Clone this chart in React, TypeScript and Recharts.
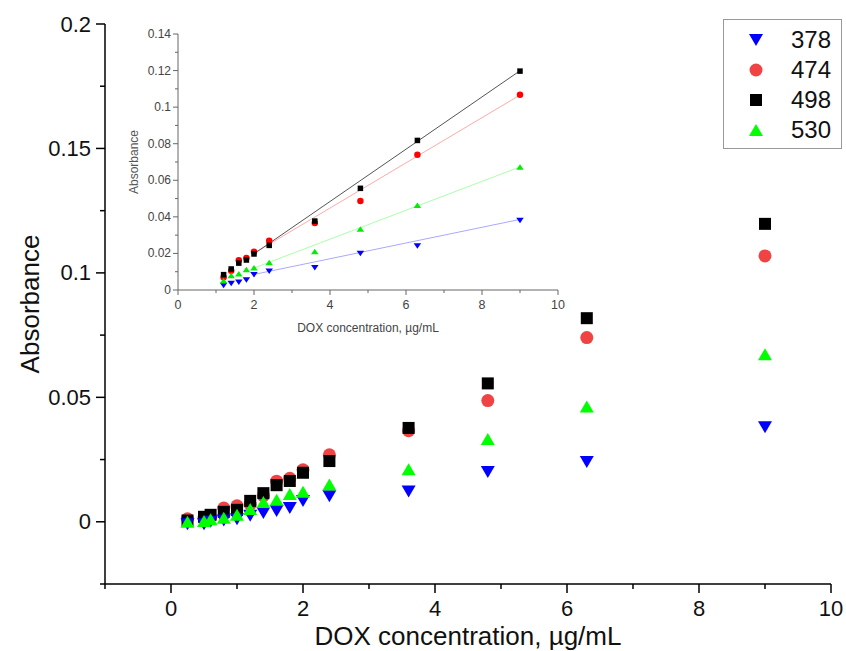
import React from 'react';
import { ScatterChart, Scatter, XAxis, YAxis, ReferenceLine } from 'recharts';

// ---------- data ----------
const concentration = [0.25, 0.5, 0.6, 0.8, 1.0, 1.2, 1.4, 1.6, 1.8, 2.0, 2.4, 3.6, 4.8, 6.3, 9.0];
const abs378 = [-0.001, -0.001, 0.0, 0.0005, 0.001, 0.0024, 0.0035, 0.0043, 0.0055, 0.0083, 0.0103, 0.0122, 0.02, 0.024, 0.038];
const abs474 = [0.0012, 0.0015, 0.002, 0.0055, 0.0064, 0.007, 0.0105, 0.0163, 0.0175, 0.0209, 0.0269, 0.0366, 0.0487, 0.074, 0.1068];
const abs498 = [0.0005, 0.002, 0.0028, 0.004, 0.0048, 0.0084, 0.0115, 0.0147, 0.0164, 0.0197, 0.0244, 0.0377, 0.0556, 0.0818, 0.1197];
const abs530 = [0.0, 0.0003, 0.001, 0.0016, 0.0028, 0.0051, 0.0079, 0.0089, 0.0112, 0.0121, 0.015, 0.0211, 0.0333, 0.0463, 0.0673];

const seriesNames = ['378', '474', '498', '530'];

// linear fit endpoints (inset)
const fitX = [2, 9];
const fit378 = [0.0085, 0.0386];
const fit474 = [0.0201, 0.1066];
const fit498 = [0.0198, 0.1199];
const fit530 = [0.012, 0.0673];

const insetMinConcentration = 1.2;

const mainXTicks = [-1, 0, 1, 2, 3, 4, 5, 6, 7, 8, 9, 10];
const mainXLabels = [0, 2, 4, 6, 8, 10];
const mainYTicks = [-0.025, 0, 0.025, 0.05, 0.075, 0.1, 0.125, 0.15, 0.175, 0.2];
const mainYLabels = [0, 0.05, 0.1, 0.15, 0.2];
const insetXTicks = [0, 1, 2, 3, 4, 5, 6, 7, 8, 9, 10];
const insetXLabels = [0, 2, 4, 6, 8, 10];
const insetYTicks = [0, 0.01, 0.02, 0.03, 0.04, 0.05, 0.06, 0.07, 0.08, 0.09, 0.1, 0.11, 0.12, 0.13, 0.14];
const insetYLabels = [0, 0.02, 0.04, 0.06, 0.08, 0.1, 0.12, 0.14];

const xTitle = 'DOX concentration, µg/mL';
const yTitle = 'Absorbance';

// ---------- styling ----------
const FONT = '"Liberation Sans", Arial, sans-serif';

type Kind = 'down' | 'up' | 'circle' | 'square';

const seriesStyle: Record<string, { kind: Kind; main: string; inset: string; line: string }> = {
  '378': { kind: 'down', main: '#0000ff', inset: '#0000ff', line: '#a8a8ff' },
  '474': { kind: 'circle', main: '#f04444', inset: '#ff0000', line: '#ffaaaa' },
  '498': { kind: 'square', main: '#000000', inset: '#000000', line: '#555555' },
  '530': { kind: 'up', main: '#00ff00', inset: '#00ee00', line: '#aaffaa' },
};

const valuesByName: Record<string, number[]> = { '378': abs378, '474': abs474, '498': abs498, '530': abs530 };
const fitByName: Record<string, number[]> = { '378': fit378, '474': fit474, '498': fit498, '530': fit530 };

// draw order: red, black, blue, green
const drawOrder = ['474', '498', '378', '530'];

function marker(kind: Kind, cx: number, cy: number, s: number, color: string) {
  if (kind === 'square') {
    return <rect x={cx - s / 2} y={cy - s / 2} width={s} height={s} fill={color} />;
  }
  if (kind === 'circle') {
    return <circle cx={cx} cy={cy} r={s / 2 + 0.5} fill={color} />;
  }
  const w = s + 2;
  const h = s;
  if (kind === 'up') {
    return <polygon points={`${cx},${cy - h / 2} ${cx - w / 2},${cy + h / 2} ${cx + w / 2},${cy + h / 2}`} fill={color} />;
  }
  return <polygon points={`${cx},${cy + h / 2} ${cx - w / 2},${cy - h / 2} ${cx + w / 2},${cy - h / 2}`} fill={color} />;
}

const makeShape = (kind: Kind, size: number, color: string) => (props: any) => {
  const { cx, cy } = props;
  if (cx == null || cy == null) return <g />;
  return marker(kind, cx, cy, size, color);
};

const near = (a: number, list: number[]) => list.some((b) => Math.abs(a - b) < 1e-9);

// ---------- ticks ----------
const MainYTick = (props: any) => {
  const { x, y, payload } = props;
  const v = payload.value;
  const major = near(v, mainYLabels);
  return (
    <g>
      <line x1={x} x2={x - (major ? 9 : 5)} y1={y} y2={y} stroke="#000" strokeWidth={1.5} />
      {major && (
        <text x={x - 14} y={y} textAnchor="end" dominantBaseline="central" fontSize={22} fontFamily={FONT} fill="#111">
          {String(v)}
        </text>
      )}
    </g>
  );
};

const MainXTick = (props: any) => {
  const { x, y, payload } = props;
  const v = payload.value;
  const major = near(v, mainXLabels);
  return (
    <g>
      <line x1={x} x2={x} y1={y} y2={y + (major ? 9 : 5)} stroke="#000" strokeWidth={1.5} />
      {major && (
        <text x={x} y={y + 24} textAnchor="middle" dominantBaseline="central" fontSize={22} fontFamily={FONT} fill="#111">
          {String(v)}
        </text>
      )}
    </g>
  );
};

const InsetYTick = (props: any) => {
  const { x, y, payload } = props;
  const v = payload.value;
  const major = near(v, insetYLabels);
  return (
    <g>
      <line x1={x} x2={x - (major ? 5 : 3)} y1={y} y2={y} stroke="#666" strokeWidth={1} />
      {major && (
        <text x={x - 7} y={y} textAnchor="end" dominantBaseline="central" fontSize={12} fontFamily={FONT} fill="#444">
          {String(v)}
        </text>
      )}
    </g>
  );
};

const InsetXTick = (props: any) => {
  const { x, y, payload } = props;
  const v = payload.value;
  const major = near(v, insetXLabels);
  return (
    <g>
      <line x1={x} x2={x} y1={y} y2={y + (major ? 5 : 3)} stroke="#666" strokeWidth={1} />
      {major && (
        <text x={x} y={y + 15} textAnchor="middle" dominantBaseline="central" fontSize={12.5} fontFamily={FONT} fill="#444">
          {String(v)}
        </text>
      )}
    </g>
  );
};

// ---------- labels ----------
const MainXTitle = (props: any) => {
  const vb = props.viewBox || {};
  return (
    <text x={vb.x + vb.width / 2} y={vb.y + 61} textAnchor="middle" fontSize={26} fontFamily={FONT} fill="#111">
      {xTitle}
    </text>
  );
};

const MainYTitle = (props: any) => {
  const vb = props.viewBox || {};
  const cx = 30;
  const cy = vb.y + vb.height / 2;
  return (
    <text x={cx} y={cy} transform={`rotate(-90 ${cx} ${cy})`} textAnchor="middle" dominantBaseline="central" fontSize={26} fontFamily={FONT} fill="#111">
      {yTitle}
    </text>
  );
};

const InsetXTitle = (props: any) => {
  const vb = props.viewBox || {};
  return (
    <text x={vb.x + vb.width / 2} y={vb.y + 42} textAnchor="middle" fontSize={12} fontFamily={FONT} fill="#444">
      {xTitle}
    </text>
  );
};

const InsetYTitle = (props: any) => {
  const vb = props.viewBox || {};
  const cx = 14;
  const cy = vb.y + vb.height / 2;
  return (
    <text x={cx} y={cy} transform={`rotate(-90 ${cx} ${cy})`} textAnchor="middle" dominantBaseline="central" fontSize={12} fontFamily={FONT} fill="#555">
      {yTitle}
    </text>
  );
};

const pointsFor = (name: string, minX: number) =>
  concentration
    .map((c, i) => ({ x: c, y: valuesByName[name][i] }))
    .filter((p) => p.x >= minX);

export default function App() {
  return (
    <div style={{ position: 'absolute', left: 0, top: 0, width: 846, height: 651, background: '#fff', overflow: 'hidden' }}>
      <div style={{ position: 'absolute', left: 0, top: 0 }}>
        <ScatterChart width={846} height={651} margin={{ top: 24, right: 15, bottom: 0, left: 0 }}>
          <XAxis
            type="number"
            dataKey="x"
            domain={[-1, 10]}
            ticks={mainXTicks}
            interval={0}
            tickSize={0}
            tickMargin={0}
            tickLine={false}
            height={67}
            axisLine={{ stroke: '#000', strokeWidth: 1.5 }}
            tick={<MainXTick />}
            label={<MainXTitle />}
          />
          <YAxis
            type="number"
            dataKey="y"
            domain={[-0.025, 0.2]}
            ticks={mainYTicks}
            interval={0}
            tickSize={0}
            tickMargin={0}
            tickLine={false}
            width={105}
            axisLine={{ stroke: '#000', strokeWidth: 1.5 }}
            tick={<MainYTick />}
            label={<MainYTitle />}
          />
          {drawOrder.map((name) => (
            <Scatter
              key={name}
              name={name}
              data={pointsFor(name, -Infinity)}
              isAnimationActive={false}
              shape={makeShape(seriesStyle[name].kind, 12, seriesStyle[name].main)}
            />
          ))}
        </ScatterChart>
      </div>

      <div style={{ position: 'absolute', left: 120, top: 20 }}>
        <ScatterChart width={460} height={320} margin={{ top: 14, right: 22, bottom: 0, left: 0 }}>
          <XAxis
            type="number"
            dataKey="x"
            domain={[0, 10]}
            ticks={insetXTicks}
            interval={0}
            tickSize={0}
            tickMargin={0}
            tickLine={false}
            height={50}
            axisLine={{ stroke: '#666', strokeWidth: 1 }}
            tick={<InsetXTick />}
            label={<InsetXTitle />}
          />
          <YAxis
            type="number"
            dataKey="y"
            domain={[0, 0.14]}
            ticks={insetYTicks}
            interval={0}
            tickSize={0}
            tickMargin={0}
            tickLine={false}
            width={58}
            axisLine={{ stroke: '#666', strokeWidth: 1 }}
            tick={<InsetYTick />}
            label={<InsetYTitle />}
          />
          {drawOrder.map((name) => (
            <ReferenceLine
              key={'fit' + name}
              segment={[
                { x: fitX[0], y: fitByName[name][0] },
                { x: fitX[1], y: fitByName[name][1] },
              ]}
              stroke={seriesStyle[name].line}
              strokeWidth={1}
              ifOverflow="visible"
            />
          ))}
          {drawOrder.map((name) => (
            <Scatter
              key={'in' + name}
              name={name}
              data={pointsFor(name, insetMinConcentration)}
              isAnimationActive={false}
              shape={makeShape(seriesStyle[name].kind, 5.5, seriesStyle[name].inset)}
            />
          ))}
        </ScatterChart>
      </div>

      <div
        style={{
          position: 'absolute',
          left: 723,
          top: 19,
          width: 117,
          height: 128,
          border: '1px solid #999',
          background: '#fff',
          fontFamily: FONT,
        }}
      >
        {seriesNames.map((name, i) => (
          <div key={name} style={{ position: 'absolute', left: 0, right: 0, top: 5 + i * 30, height: 30 }}>
            <svg width={20} height={20} style={{ position: 'absolute', left: 22, top: 5 }}>
              {marker(seriesStyle[name].kind, 10, 10, 12, seriesStyle[name].main)}
            </svg>
            <span style={{ position: 'absolute', right: 10, top: 0, lineHeight: '30px', fontSize: 24, color: '#111' }}>{name}</span>
          </div>
        ))}
      </div>
    </div>
  );
}
